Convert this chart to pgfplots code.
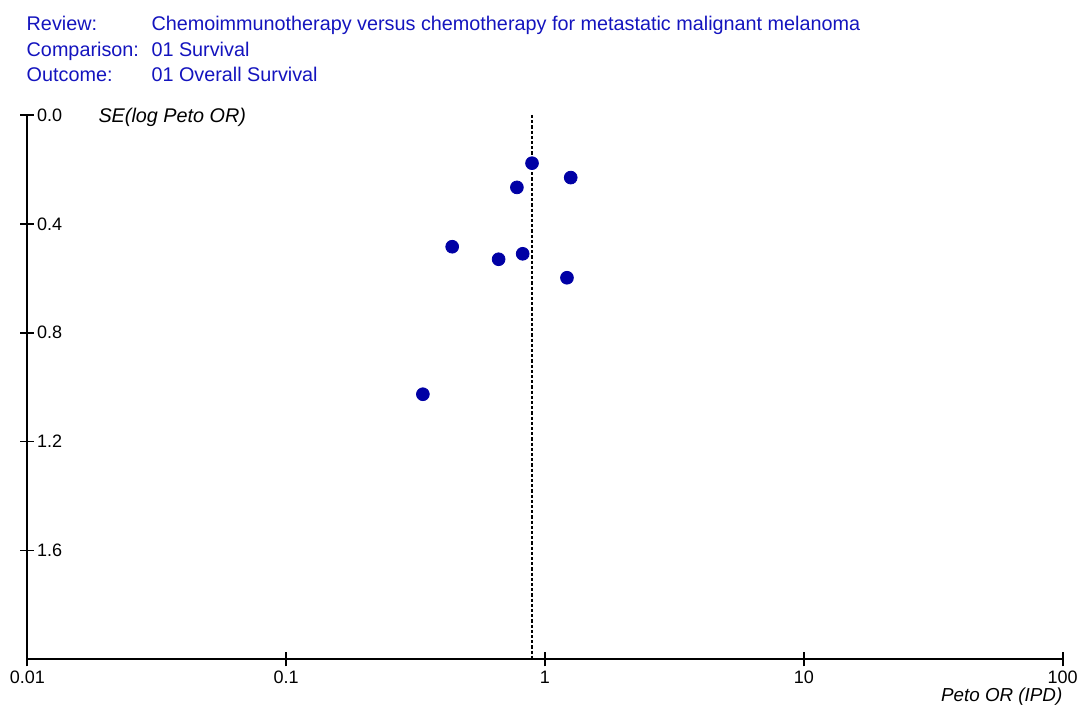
\documentclass[border=0pt]{standalone}
\usepackage{fontspec}
\setmainfont{Liberation Sans}
\usepackage{pgfplots}
\pgfplotsset{compat=1.18}
\definecolor{hdrblue}{RGB}{20,20,190}
\definecolor{dotblue}{RGB}{0,0,165}

\begin{document}
\fontsize{9.9pt}{12pt}\selectfont
\begin{tikzpicture}
\begin{axis}[
    scale only axis,
    width=517.7pt, height=272.15pt,
    xmode=log,
    xmin=0.01, xmax=100,
    ymin=0, ymax=2,
    y dir=reverse,
    axis lines=left,
    axis line style={line width=0.9pt, -},
    xtick={0.01,0.1,1,10,100},
    xticklabels={0.01,0.1,1,10,100},
    xminorticks=false,
    ytick={0,0.4,0.8,1.2,1.6},
    yticklabels={0.0,0.4,0.8,1.2,1.6},
    tick align=center,
    major tick length=7pt,
    tick style={line width=0.9pt, black},
    xticklabel style={anchor=north, inner sep=0pt, yshift=-2.3pt},
    yticklabel style={anchor=west, inner sep=0pt, xshift=8.2pt},
    tick label style={font=\fontsize{9pt}{11pt}\selectfont},
    /pgf/number format/assume math mode=true,
    clip=false,
]
\coordinate (O) at (rel axis cs:0,0);
% pooled estimate
\addplot[black, line width=0.65pt, dash pattern=on 1.6pt off 1pt]
    coordinates {(0.891,0) (0.891,2)};
% studies: Peto OR vs SE(log Peto OR)
\addplot[only marks, mark=*, mark size=3.2pt, color=dotblue, mark options={fill=dotblue, draw=dotblue}]
    coordinates {
    (0.891,0.177)
    (1.257,0.230)
    (0.779,0.266)
    (0.438,0.484)
    (0.662,0.530)
    (0.820,0.510)
    (1.216,0.598)
    (0.3375,1.026)
    };
\end{axis}

% header
\begin{scope}[every node/.style={anchor=base west, inner sep=0pt, text=hdrblue}]
\node at ([shift={(-0.5pt,314.3pt)}]O) {Review:};
\node at ([shift={(61.9pt,314.3pt)}]O) {Chemoimmunotherapy versus chemotherapy for metastatic malignant melanoma};
\node at ([shift={(-0.5pt,301.6pt)}]O) {Comparison:};
\node at ([shift={(61.9pt,301.6pt)}]O) {01 Survival};
\node at ([shift={(-0.5pt,288.8pt)}]O) {Outcome:};
\node at ([shift={(61.9pt,288.8pt)}]O) {01 Overall Survival};
\end{scope}

% axis titles
\node[anchor=base west, inner sep=0pt, font=\itshape] at ([shift={(35.4pt,268.2pt)}]O) {SE(log Peto OR)};
\node[anchor=base east, inner sep=0pt, font=\fontsize{9.4pt}{11pt}\selectfont\itshape] at ([shift={(517.7pt,-21.2pt)}]O) {Peto OR (IPD)};

\path ([shift={(-13.65pt,-25.85pt)}]O) rectangle ([shift={(526.35pt,329.65pt)}]O);
\end{tikzpicture}
\end{document}
